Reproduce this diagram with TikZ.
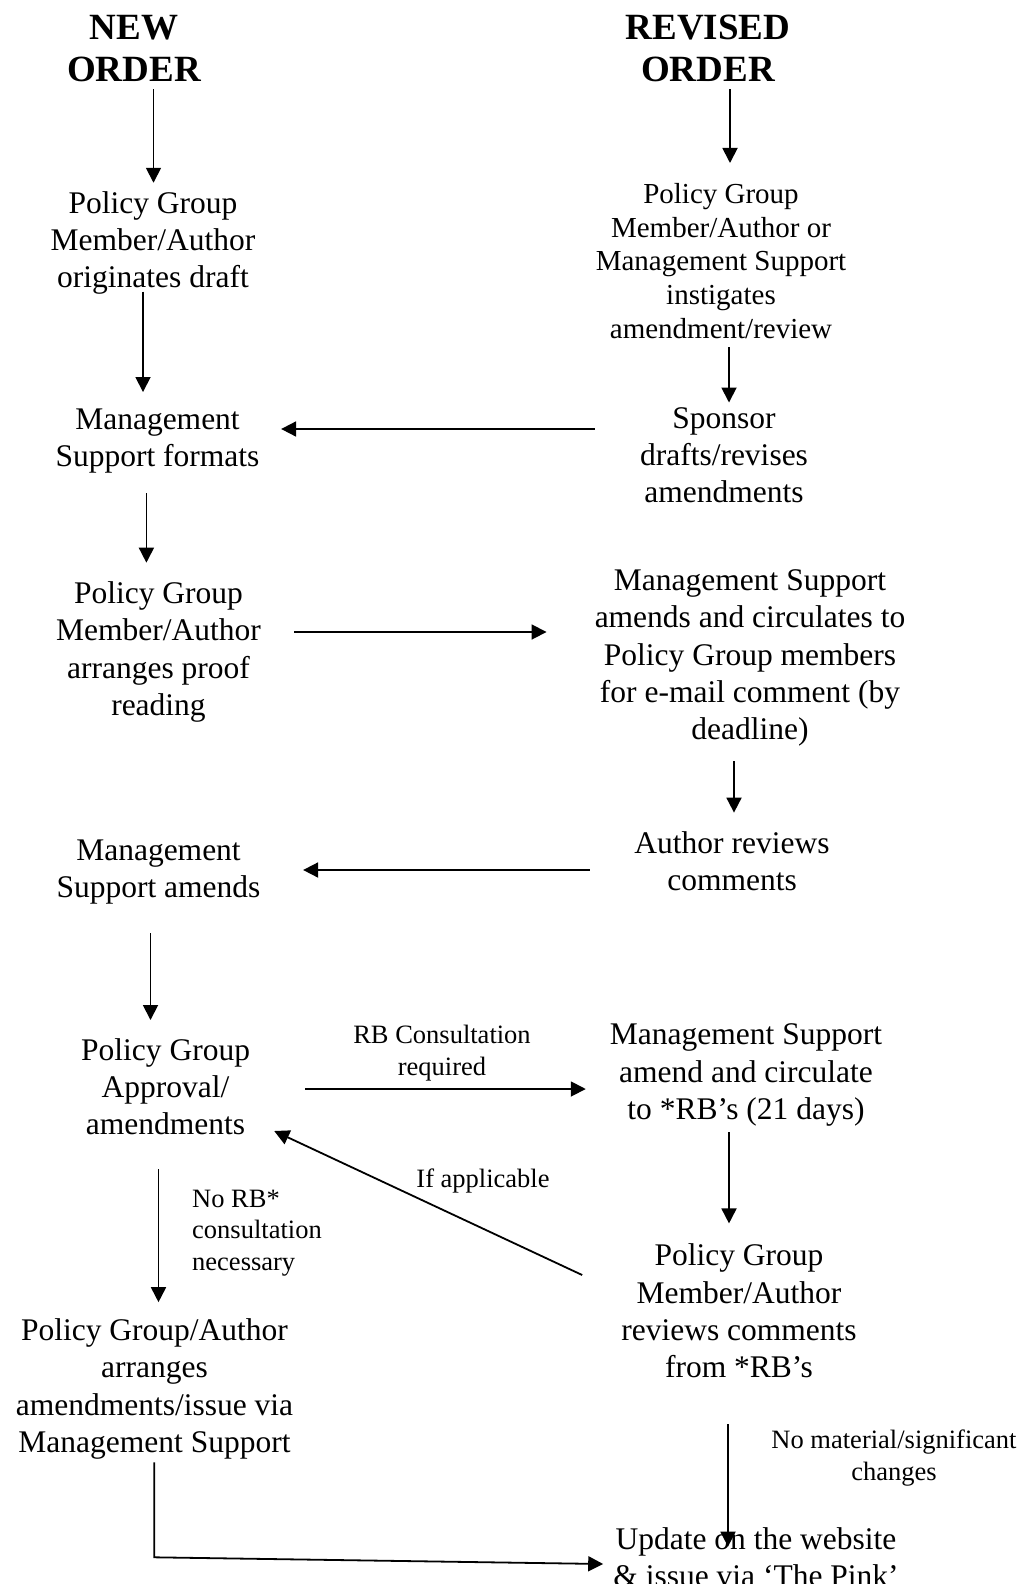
\documentclass[tikz,border=0pt]{standalone}
\usepackage{fontspec}
\setmainfont{Liberation Serif}
\usetikzlibrary{arrows.meta}
\tikzset{
  txt/.style={align=center, inner sep=0pt, font=\fontsize{31.5}{37.2}\selectfont},
  txtb/.style={align=center, inner sep=0pt, font=\fontsize{29}{33.8}\selectfont},
  ttl/.style={align=center, inner sep=0pt, font=\fontsize{37}{42.5}\selectfont\bfseries},
  lbl/.style={inner sep=0pt, font=\fontsize{26.5}{31.3}\selectfont},
  arr/.style={line width=1.8pt, -{Triangle[length=15pt,width=15pt]}},
}
\begin{document}
\begin{tikzpicture}[x=1pt,y=-1pt]
\useasboundingbox (0,0) rectangle (1027,1584);
% titles
\node[ttl] (neworder) at (134,48.5) {NEW\\ORDER};
\node[ttl] (revorder) at (708,48.5) {REVISED\\ORDER};
% left column
\node[txt] (pg1) at (153,243) {Policy Group\\Member/Author\\originates draft};
\node[txt] (msf) at (157.5,441) {Management\\Support formats};
\node[txt] (pga) at (158.5,652) {Policy Group\\Member/Author\\arranges proof\\reading};
\node[txt] (msa) at (158.5,872) {Management\\Support amends};
\node[txt] (pgaa) at (165.6,1087) {Policy Group\\Approval/\\amendments};
\node[txt] (pgauth) at (154.5,1389) {Policy Group/Author\\arranges\\amendments/issue via\\Management Support};
% right column
\node[txtb] (pgr1) at (721,261) {Policy Group\\Member/Author or\\Management Support\\instigates\\amendment/review};
\node[txt] (sponsor) at (724,455) {Sponsor\\drafts/revises\\amendments};
\node[txt] (mscirc) at (750,658) {Management Support\\amends and circulates to\\Policy Group members\\for e-mail comment (by\\deadline)};
\node[txt] (authrev) at (732,861) {Author reviews\\comments};
\node[txt] (ms21) at (746,1075) {Management Support\\amend and circulate\\to *RB’s (21 days)};
\node[txt] (pgrev) at (739,1311) {Policy Group\\Member/Author\\reviews comments\\from *RB’s};
\node[txt] (update) at (756,1557) {Update on the website\\\& issue via ‘The Pink’};
% labels
\node[lbl, align=center] (rbcons) at (442,1053) {RB Consultation\\required};
\node[lbl] (ifapp) at (483,1181) {If applicable};
\node[lbl, align=left, anchor=west] (norb) at (192,1233) {No RB*\\consultation\\necessary};
\node[lbl, align=center] (nomat) at (894,1458) {No material/significant\\changes};
\coordinate (bend) at (154.3,1557.3);
% vertical arrows
\draw[arr, shorten <=7pt, shorten >=8.5pt] (neworder.south -| 153.5,0) -- (pg1.north -| 153.5,0);
\draw[arr, shorten <=7pt, shorten >=20pt] (revorder.south -| 730,0) -- (pgr1.north -| 730,0);
\draw[arr, shorten <=-3pt, shorten >=16.5pt] (pg1.south -| 143,0) -- (msf.north -| 143,0);
\draw[arr, shorten <=8pt, shorten >=4.5pt] (pgr1.south -| 729,0) -- (sponsor.north -| 729,0);
\draw[arr, shorten <=20pt, shorten >=19pt] (msf.south -| 146.4,0) -- (pga.north -| 146.4,0);
\draw[arr, shorten <=15pt, shorten >=18.5pt] (mscirc.south -| 734,0) -- (authrev.north -| 734,0);
\draw[arr, shorten <=29pt, shorten >=18.5pt] (msa.south -| 150.5,0) -- (pgaa.north -| 150.5,0);
\draw[arr, shorten <=6pt, shorten >=20.5pt] (ms21.south -| 729,0) -- (pgrev.north -| 729,0);
\draw[arr, shorten <=34pt, shorten >=16.5pt] (pgaa.south -| 158.5,0) -- (pgauth.north -| 158.5,0);
\draw[arr, shorten <=46pt, shorten >=-19.5pt] (pgrev.south -| 728,0) -- (update.north -| 728,0);
% horizontal arrows
\draw[arr, shorten <=45pt, shorten >=21.5pt] (sponsor.west |- 0,429) -- (msf.east |- 0,429);
\draw[arr, shorten <=33pt, shorten >=48pt] (pga.east |- 0,632) -- (mscirc.west |- 0,632);
\draw[arr, shorten <=44.5pt, shorten >=42.5pt] (authrev.west |- 0,870) -- (msa.east |- 0,870);
\draw[arr, shorten <=55pt, shorten >=24pt] (pgaa.east |- 0,1089) -- (ms21.west |- 0,1089);
\draw[arr] ([shift={(-39,-36)}]pgrev.west) -- ([shift={(24,44)}]pgaa.east);
% bottom connector
\draw[arr, shorten <=3pt] (pgauth.south -| bend) -- (bend) -- ([shift={(-10,7)}]update.west);
\end{tikzpicture}
\end{document}
